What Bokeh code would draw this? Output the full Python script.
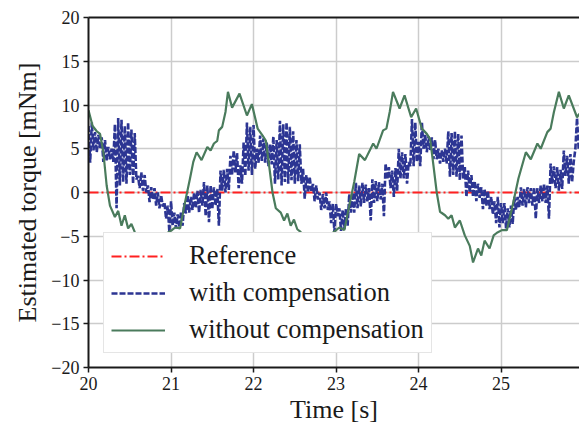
from bokeh.plotting import figure
from bokeh.models import Legend, LegendItem, LinearAxis, FixedTicker, Range1d
from bokeh.embed import file_html
from bokeh.resources import INLINE

# --- data ---------------------------------------------------------------
x_ticks = [20, 21, 22, 23, 24, 25]
x_tick_labels = ["20", "21", "22", "23", "24", "25"]
y_ticks = [-20, -15, -10, -5, 0, 5, 10, 15, 20]
y_tick_labels = ["\u221220", "\u221215", "\u221210", "\u22125", "0", "5", "10", "15", "20"]

ref_t = [20.0, 25.95]
ref_y = [0.0, 0.0]

# torque without compensation [mNm]
nocomp_t = [
    20.00, 20.05, 20.10, 20.14, 20.18, 20.22, 20.26, 20.32, 20.36, 20.40,
    20.44, 20.48, 20.52, 20.56, 20.62, 20.66, 20.72, 20.76, 20.80, 20.86,
    20.91, 20.96, 21.01, 21.05, 21.11, 21.17, 21.23, 21.27, 21.31, 21.37,
    21.44, 21.48, 21.52, 21.56, 21.58, 21.62, 21.66, 21.69, 21.74, 21.83,
    21.92, 21.98, 22.05, 22.11, 22.15, 22.19, 22.23, 22.27, 22.33, 22.37,
    22.41, 22.45, 22.49, 22.53, 22.57, 22.62, 22.66, 22.72, 22.76, 22.80,
    22.86, 22.91, 22.96, 23.00, 23.04, 23.10, 23.16, 23.22, 23.28, 23.35,
    23.45, 23.49, 23.57, 23.61, 23.65, 23.69, 23.77, 23.83, 23.91, 23.97,
    24.04, 24.10, 24.14, 24.18, 24.22, 24.26, 24.32, 24.36, 24.40, 24.44,
    24.50, 24.56, 24.62, 24.66, 24.72, 24.76, 24.80, 24.86, 24.91, 24.95,
    25.01, 25.07, 25.13, 25.21, 25.30, 25.36, 25.44, 25.48, 25.56, 25.60,
    25.64, 25.70, 25.76, 25.82, 25.92, 25.95,
]
nocomp_y = [
    9.4, 7.6, 7.0, 6.7, 4.6, 0.8, -1.5, -2.8, -2.1, -3.8,
    -2.6, -4.1, -3.6, -4.5, -5.8, -7.0, -6.0, -6.8, -5.4, -6.0,
    -4.9, -4.6, -4.3, -4.0, -4.1, -1.1, 1.6, 3.5, 4.6, 3.7,
    5.2, 4.8, 5.6, 5.9, 7.1, 7.5, 9.2, 11.5, 9.7, 11.3,
    8.8, 10.1, 7.3, 6.5, 5.9, 3.0, 0.0, -1.8, -2.3, -3.2,
    -2.4, -3.8, -3.1, -4.2, -4.5, -5.8, -7.0, -6.0, -6.8, -5.4,
    -6.0, -4.9, -4.6, -4.3, -4.0, -4.3, -1.5, 1.2, 4.4, 3.7,
    5.6, 5.0, 7.1, 7.3, 9.2, 11.5, 9.6, 11.1, 8.6, 9.6,
    7.3, 6.7, 6.1, 3.1, 0.0, -2.2, -2.6, -3.0, -2.6, -4.0,
    -3.2, -4.9, -6.1, -8.0, -6.4, -7.2, -5.5, -6.4, -4.9, -4.6,
    -4.3, -4.3, -1.9, 1.6, 4.6, 3.8, 5.6, 5.0, 6.9, 7.3,
    9.2, 11.5, 9.6, 11.1, 8.6, 9.0,
]

# torque with compensation [mNm], sampled every 20 ms from t = 20 s
comp_y = [
    7.6, 3.4, 8.0, 4.8, 6.9, 4.6, 6.6, 5.0, 6.3, 3.5,
    6.0, 3.6, 5.2, 3.8, 5.0, 3.5, 7.8, -1.8, 8.5, 0.8,
    8.3, 1.2, 7.6, 1.0, 8.0, 2.0, 7.2, 1.0, 6.8, 1.5,
    1.9, 0.5, 2.3, 0.2, 2.0, 0.0, 0.8, -1.1, 0.6, -0.8,
    0.5, -1.5, 0.0, -1.8, -0.3, -1.6, -1.1, -3.0, -1.5, -4.5,
    -1.0, -3.8, -2.3, -4.1, -2.5, -4.0, -2.3, -3.8, -1.2, -2.4,
    -0.3, -2.3, -0.5, -2.0, 0.0, -1.8, 0.2, -2.3, 0.3, -1.5,
    1.2, -2.7, 0.8, -3.4, 0.8, -1.9, 0.6, -1.5, 0.4, -3.8,
    2.5, 0.2, 2.6, 0.0, 2.7, 0.3, 4.2, 2.0, 4.8, 2.3,
    4.5, 0.5, 3.1, 1.0, 5.7, 1.9, 8.0, 2.5, 7.5, 2.0,
    7.7, 2.7, 5.0, 3.4, 6.5, 3.6, 6.2, 3.4, 5.7, 3.0,
    5.5, 3.2, 6.4, 1.0, 6.0, 1.5, 8.2, 0.8, 7.8, 1.2,
    8.0, 1.0, 7.5, 1.4, 7.0, 1.0, 6.0, 1.3, 5.5, 1.0,
    2.7, -0.7, 2.0, 0.0, 1.8, 0.2, 1.0, -1.0, 0.8, -0.8,
    0.0, -2.0, -0.2, -1.8, 0.0, -2.0, -1.0, -3.5, -1.3, -4.5,
    -1.3, -2.7, -1.8, -4.4, -2.0, -4.2, -1.8, -3.8, -0.2, -2.3,
    0.0, -2.3, 1.1, -1.8, 0.8, -1.6, 1.1, -1.2, 0.9, -1.0,
    0.5, -3.2, 1.5, -1.2, 1.3, -1.0, 1.2, -0.8, 1.0, -2.7,
    3.3, 1.5, 2.9, 0.5, 2.5, -0.5, 2.8, 0.2, 5.0, 1.6,
    4.6, 1.6, 4.4, 1.0, 3.5, 3.0, 8.4, 3.0, 8.0, 3.5,
    5.8, 3.0, 8.0, 5.0, 6.6, 4.6, 6.4, 4.8, 6.3, 3.8,
    6.0, 3.8, 5.0, 3.3, 4.8, 3.5, 5.0, 3.3, 7.0, 1.8,
    6.8, 2.0, 7.0, 1.8, 6.7, 1.4, 6.5, 1.6, 2.9, -0.5,
    2.5, 0.0, 2.0, -0.5, 1.3, -1.0, 1.0, -0.6, 0.6, -1.9,
    0.4, -1.5, 0.2, -1.9, -0.5, -2.5, -1.0, -3.5, -0.5, -4.0,
    -1.2, -3.5, -1.2, -4.1, -1.8, -4.0, -1.5, -3.6, -0.5, -2.0,
    -0.5, -1.7, 0.6, -1.5, 0.4, -1.7, 0.6, -1.2, 0.5, -1.5,
    0.6, -3.0, 0.5, -1.2, 0.8, -1.0, 1.0, -1.2, 0.8, -3.0,
    3.3, 1.0, 3.0, 0.5, 2.9, 0.2, 2.6, 0.4, 4.8, 1.9,
    4.2, 1.0, 4.4, 1.2, 3.5, 5.0, 8.5, 5.0,
]
comp_t = [round(20.0 + 0.02 * i, 2) for i in range(len(comp_y))]

# --- figure -------------------------------------------------------------
SERIF = "Liberation Serif"
INK = "#1a1a1a"

p = figure(
    width=579, height=427,
    x_range=Range1d(20.0, 25.95), y_range=Range1d(-20, 20),
    output_backend="svg", toolbar_location=None,
    min_border_left=88, min_border_right=0,
    min_border_top=17, min_border_bottom=60,
    background_fill_color="white", border_fill_color="white",
)
p.outline_line_color = None

r_ref = p.line(ref_t, ref_y, line_color="#ff2020", line_width=1.8, line_dash="10 3 2 3")
r_comp = p.line(comp_t, comp_y, line_color="#2c3593", line_width=2.6, line_dash="6 2")
r_nocomp = p.line(nocomp_t, nocomp_y, line_color="#4a7b5c", line_width=2.2)

p.xaxis.ticker = FixedTicker(ticks=x_ticks)
p.xaxis.major_label_overrides = {float(v): s for v, s in zip(x_ticks, x_tick_labels)}
p.yaxis.ticker = FixedTicker(ticks=y_ticks)
p.yaxis.major_label_overrides = {float(v): s for v, s in zip(y_ticks, y_tick_labels)}
p.xaxis.axis_label = "Time [s]"
p.yaxis.axis_label = "Estimated torque [mNm]"

# axes styling (applied to both axes through the splat lists)
for axes in (p.xaxis, p.yaxis):
    axes.axis_line_color = INK
    axes.axis_line_width = 2
    axes.major_tick_line_color = INK
    axes.major_tick_line_width = 1.5
    axes.major_tick_out = 5
    axes.major_tick_in = 0
    axes.minor_tick_line_color = None
    axes.major_label_text_font = SERIF
    axes.major_label_text_font_size = "18px"
    axes.major_label_text_color = INK
    axes.major_label_standoff = 4
    axes.axis_label_text_font = SERIF
    axes.axis_label_text_font_size = "26px"
    axes.axis_label_text_font_style = "normal"
    axes.axis_label_text_color = INK
p.xaxis.axis_label_standoff = 2
p.yaxis.axis_label_standoff = 6

# top frame line
top = LinearAxis(
    ticker=FixedTicker(ticks=[]), axis_line_color=INK, axis_line_width=2,
    major_tick_line_color=None, minor_tick_line_color=None,
    major_label_text_font_size="0px",
)
p.add_layout(top, "above")

# grid
p.xgrid.ticker = FixedTicker(ticks=x_ticks)
p.ygrid.ticker = FixedTicker(ticks=y_ticks)
p.grid.grid_line_color = "#cccccc"
p.grid.grid_line_width = 1.5

# legend
legend = Legend(
    items=[
        LegendItem(label="Reference", renderers=[r_ref]),
        LegendItem(label="with compensation", renderers=[r_comp]),
        LegendItem(label="without compensation", renderers=[r_nocomp]),
    ],
    location=(15, 14),
    label_text_font=SERIF, label_text_font_size="26.5px", label_text_color=INK,
    glyph_width=54, glyph_height=28, label_height=28,
    label_standoff=24, spacing=6, padding=7, margin=0,
    background_fill_color="white", background_fill_alpha=1.0,
    border_line_color="#cccccc", border_line_width=1,
)
p.add_layout(legend, "center")

open("out.html", "w").write(file_html(p, INLINE))
